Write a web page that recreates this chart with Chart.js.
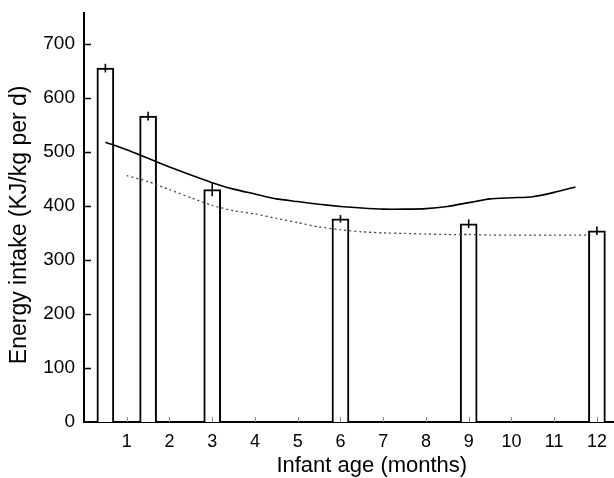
<!DOCTYPE html>
<html>
<head>
<meta charset="utf-8">
<script src="https://cdn.jsdelivr.net/npm/chart.js@4.4.1/dist/chart.umd.min.js"></script>
<style>
  html, body { margin: 0; padding: 0; background: #fff; }
  canvas { display: block; }
</style>
</head>
<body>
<canvas id="chart" width="614" height="478"></canvas>
<script>
// Measured energy intake at each survey age (bars) with standard errors
const surveyAges = [0.5, 1.5, 3, 6, 9, 12];
const measuredIntake = [655, 566, 430, 376, 367, 354];
const measuredSE = [8, 8, 12, 7, 8, 8];

// Reference curve (solid)
const refAges = [0.5, 1, 1.5, 2, 2.5, 3, 3.5, 4, 4.5, 5, 5.5, 6, 6.5, 7, 7.5, 8, 8.5, 9, 9.5, 10, 10.5, 11, 11.5];
const refIntake = [518, 504, 488, 472, 457, 443, 431, 422, 413, 408, 403, 399, 396, 394, 394, 395, 399, 406, 413, 415, 417, 425, 435];

// Second reference curve (dotted)
const altAges = [1, 1.5, 2, 2.5, 3, 3.5, 4, 4.5, 5, 5.5, 6, 6.5, 7, 7.5, 8, 8.5, 9, 9.5, 10, 10.5, 11, 11.5, 11.85];
const altIntake = [456, 445, 430, 415, 401, 391, 385, 377, 369, 361, 356, 352, 350, 349, 348, 347, 347, 346, 346, 346, 346, 346, 346];

const xTickValues = [1, 2, 3, 4, 5, 6, 7, 8, 9, 10, 11, 12];
const yTickValues = [0, 100, 200, 300, 400, 500, 600, 700];

const xTitle = 'Infant age (months)';
const yTitle = 'Energy intake (KJ/kg per d)';

const toPoints = (xs, ys) => xs.map((x, i) => ({ x: x, y: ys[i] }));

// Error bars: a single vertical stroke through the top of each bar
const errorBars = {
  id: 'errorBars',
  afterDatasetsDraw(chart) {
    const { ctx, scales: { x, y } } = chart;
    ctx.save();
    ctx.strokeStyle = '#000';
    ctx.lineWidth = 1.6;
    surveyAges.forEach((age, i) => {
      const px = x.getPixelForValue(age);
      ctx.beginPath();
      ctx.moveTo(px, y.getPixelForValue(measuredIntake[i] + measuredSE[i]));
      ctx.lineTo(px, y.getPixelForValue(measuredIntake[i] - measuredSE[i]));
      ctx.stroke();
    });
    ctx.restore();
  }
};

// Inward tick marks on both axes, plus the two axis titles
const axisDecor = {
  id: 'axisDecor',
  afterDraw(chart) {
    const { ctx, chartArea, scales: { x, y } } = chart;
    ctx.save();
    ctx.strokeStyle = '#000';
    ctx.lineWidth = 1.5;
    yTickValues.slice(1).forEach(v => {
      const py = Math.round(y.getPixelForValue(v)) + 0.5;
      ctx.beginPath();
      ctx.moveTo(chartArea.left, py);
      ctx.lineTo(chartArea.left + 7, py);
      ctx.stroke();
    });
    ctx.strokeStyle = '#888';
    ctx.lineWidth = 1;
    xTickValues.forEach(v => {
      const px = Math.round(x.getPixelForValue(v)) + 0.5;
      ctx.beginPath();
      ctx.moveTo(px, chartArea.bottom);
      ctx.lineTo(px, chartArea.bottom - 5);
      ctx.stroke();
    });

    ctx.fillStyle = '#000';
    ctx.textAlign = 'center';

    // x-axis title
    ctx.font = '22px "Liberation Sans", Arial, sans-serif';
    ctx.textBaseline = 'alphabetic';
    ctx.fillText(xTitle, chartArea.left + (chartArea.right - chartArea.left) * 0.543, chart.height - 6);

    // y-axis title, rotated
    ctx.font = '23px "Liberation Sans", Arial, sans-serif';
    ctx.textBaseline = 'middle';
    ctx.translate(20, chartArea.top + (chartArea.bottom - chartArea.top) * 0.518);
    ctx.rotate(-Math.PI / 2);
    ctx.fillText(yTitle, 0, 0);
    ctx.restore();
  }
};

new Chart(document.getElementById('chart'), {
  type: 'bar',
  data: {
    datasets: [
      {
        type: 'line',
        data: toPoints(refAges, refIntake),
        borderColor: '#000',
        borderWidth: 1.6,
        pointRadius: 0,
        tension: 0.2,
        fill: false,
        order: 0
      },
      {
        type: 'line',
        data: toPoints(altAges, altIntake),
        borderColor: '#444',
        borderWidth: 1.3,
        borderDash: [2, 3],
        pointRadius: 0,
        tension: 0.2,
        fill: false,
        order: 0
      },
      {
        type: 'bar',
        data: toPoints(surveyAges, measuredIntake),
        backgroundColor: '#fff',
        borderColor: '#000',
        borderWidth: 2,
        borderSkipped: 'start',
        barThickness: 17,
        order: 1
      }
    ]
  },
  options: {
    responsive: false,
    animation: false,
    events: [],
    layout: { padding: { top: 13, left: 0, right: 0, bottom: 0 } },
    plugins: {
      legend: { display: false },
      tooltip: { enabled: false }
    },
    scales: {
      x: {
        type: 'linear',
        min: 0,
        max: 12.4,
        offset: false,
        grid: { display: false, drawTicks: false },
        border: { display: true, color: '#000', width: 2 },
        afterBuildTicks(scale) {
          scale.ticks = xTickValues.map(v => ({ value: v }));
        },
        ticks: {
          color: '#000',
          padding: 9,
          autoSkip: false,
          maxRotation: 0,
          font: { family: '"Liberation Sans", Arial, sans-serif', size: 18 }
        },
        title: { display: false },
        afterFit(scale) {
          scale.height = 56;
          scale.paddingLeft = 0;
          scale.paddingRight = 0;
        }
      },
      y: {
        min: 0,
        max: 757,
        grid: { display: false, drawTicks: false },
        border: { display: true, color: '#000', width: 2 },
        afterBuildTicks(scale) {
          scale.ticks = yTickValues.map(v => ({ value: v }));
        },
        ticks: {
          color: '#000',
          padding: 9,
          font: { family: '"Liberation Sans", Arial, sans-serif', size: 19 }
        },
        title: { display: false },
        afterFit(scale) {
          scale.width = 84;
          scale.paddingTop = 0;
          scale.paddingBottom = 0;
        }
      }
    }
  },
  plugins: [errorBars, axisDecor]
});
</script>
</body>
</html>
